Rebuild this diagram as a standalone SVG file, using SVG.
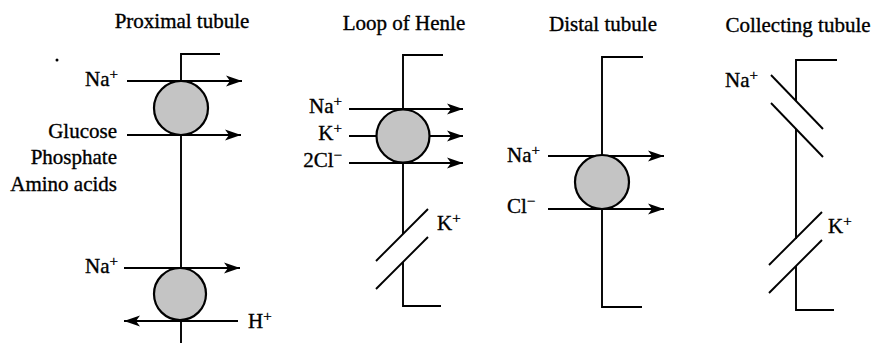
<svg xmlns="http://www.w3.org/2000/svg" width="874" height="346" viewBox="0 0 874 346">
<style>
text{font-family:"Liberation Serif","Times New Roman",serif;font-size:21px;fill:#000;stroke:#000;stroke-width:0.35}
.sup{font-size:15px}
.ln{stroke:#000;stroke-width:1.9;fill:none}
.ar{stroke:#000;stroke-width:1.9;fill:none;marker-end:url(#ah)}
.pump{fill:#c4c4c4;stroke:#000;stroke-width:2.2}
.e{text-anchor:end}
.m{text-anchor:middle}
</style>
<defs>
<marker id="ah" markerWidth="18" markerHeight="12" refX="16" refY="6" orient="auto" markerUnits="userSpaceOnUse">
<path d="M0,0.5 L16,6 L0,11.5 L4,6 z" fill="#000"/>
</marker>
</defs>

<g id="titles">
<text class="m" x="182" y="28">Proximal tubule</text>
<text class="m" x="404" y="30">Loop of Henle</text>
<text class="m" x="603" y="31">Distal tubule</text>
<text class="m" x="798" y="32">Collecting tubule</text>
</g>

<circle cx="57" cy="60" r="1.5" fill="#000"/>

<g id="connectors">
<!-- proximal -->
<polyline class="ln" points="220,54 181,54 181,343"/>
<line class="ar" x1="127" y1="81" x2="242" y2="81"/>
<line class="ar" x1="127" y1="135" x2="241" y2="135"/>
<line class="ar" x1="124" y1="268" x2="240" y2="268"/>
<line class="ar" x1="238" y1="321" x2="124" y2="321"/>
<!-- loop of henle -->
<polyline class="ln" points="443,55 403,55 403,234"/>
<polyline class="ln" points="403,262 403,306 441,306"/>
<line class="ln" x1="376" y1="261" x2="428" y2="209"/>
<line class="ln" x1="376" y1="289" x2="428" y2="237"/>
<line class="ar" x1="349" y1="109" x2="463" y2="109"/>
<line class="ar" x1="349" y1="136" x2="463" y2="136"/>
<line class="ar" x1="349" y1="163" x2="463" y2="163"/>
<!-- distal -->
<polyline class="ln" points="643,57 602,57 602,307 642,307"/>
<line class="ar" x1="548" y1="156" x2="664" y2="156"/>
<line class="ar" x1="548" y1="209" x2="664" y2="209"/>
<!-- collecting -->
<polyline class="ln" points="837,60 796,60 796,101"/>
<polyline class="ln" points="796,129 796,239"/>
<polyline class="ln" points="796,266 796,310 834,310"/>
<line class="ln" x1="771" y1="75" x2="823" y2="129"/>
<line class="ln" x1="771" y1="103" x2="823" y2="157"/>
<line class="ln" x1="769" y1="265" x2="822" y2="212"/>
<line class="ln" x1="769" y1="293" x2="822" y2="240"/>
</g>

<g id="proximal-pump1"><circle class="pump" cx="181" cy="108" r="27"/></g>
<g id="proximal-pump2"><circle class="pump" cx="180" cy="294" r="26"/></g>
<g id="loop-pump"><circle class="pump" cx="403" cy="136" r="26.5"/></g>
<g id="distal-pump"><circle class="pump" cx="602" cy="182" r="27"/></g>

<g id="labels">
<text class="e" x="118" y="86">Na<tspan class="sup" dy="-7">+</tspan></text>
<text class="e" x="117" y="138">Glucose</text>
<text class="e" x="117" y="164">Phosphate</text>
<text class="e" x="117" y="191">Amino acids</text>
<text class="e" x="118" y="273">Na<tspan class="sup" dy="-7">+</tspan></text>
<text x="248" y="328">H<tspan class="sup" dy="-7">+</tspan></text>

<text class="e" x="342" y="113">Na<tspan class="sup" dy="-7">+</tspan></text>
<text class="e" x="342" y="140">K<tspan class="sup" dy="-7">+</tspan></text>
<text class="e" x="342" y="167">2Cl<tspan class="sup" dy="-7">−</tspan></text>
<text x="437" y="230">K<tspan class="sup" dy="-7">+</tspan></text>

<text x="507" y="162">Na<tspan class="sup" dy="-7">+</tspan></text>
<text x="507" y="213">Cl<tspan class="sup" dy="-7">−</tspan></text>

<text x="725" y="87">Na<tspan class="sup" dy="-7">+</tspan></text>
<text x="828" y="233">K<tspan class="sup" dy="-7">+</tspan></text>
</g>
</svg>
